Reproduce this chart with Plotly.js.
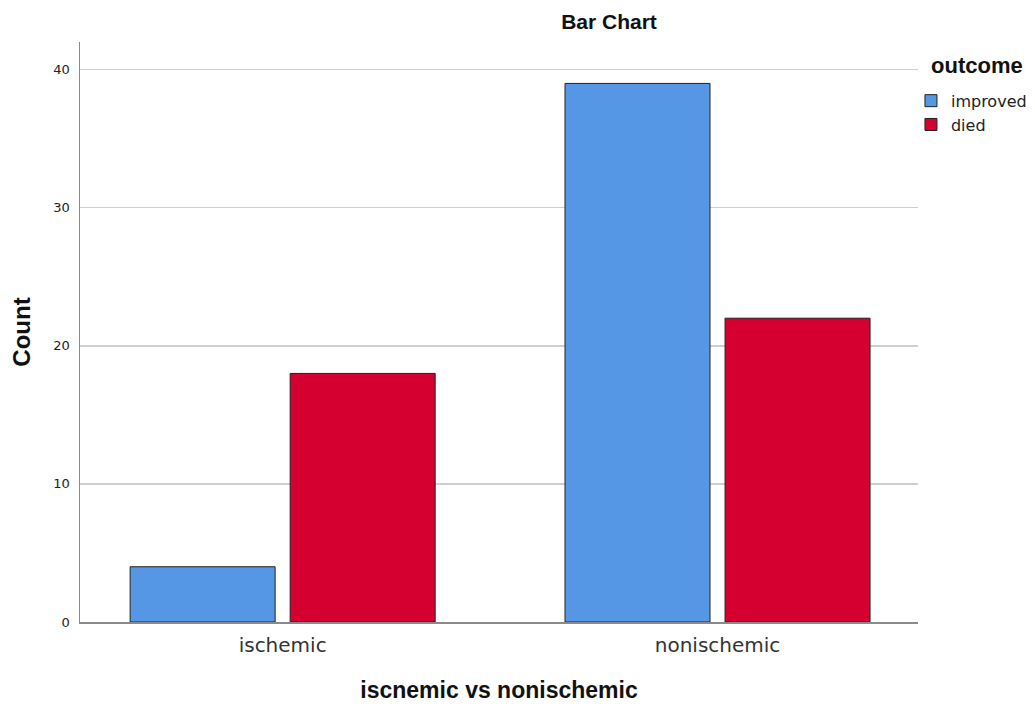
<!DOCTYPE html>
<html><head><meta charset="utf-8">
<script src="https://cdn.plot.ly/plotly-3.0.1.min.js"></script>
<style>html,body{margin:0;padding:0;background:#fff}</style>
</head><body>
<div id="chart" style="width:1035px;height:708px"></div>
<script>
const categories = ["ischemic", "nonischemic"];
const seriesNames = ["improved", "died"];
const improved = [4, 39];
const died = [18, 22];
const colors = ["#5596e5", "#d60030"];
const legendTitle = "outcome";

const traces = [improved, died].map((vals, i) => ({
  type: "bar",
  name: seriesNames[i],
  x: categories,
  y: vals,
  marker: {color: colors[i], line: {color: "#222", width: 1}},
  hoverinfo: "x+y+name"
}));

const layout = {
  width: 1035, height: 708,
  margin: {l: 80, r: 117, t: 42, b: 86, autoexpand: false},
  paper_bgcolor: "#fff", plot_bgcolor: "#fff",
  barmode: "group", bargap: 0.264, bargroupgap: 0.094,
  title: {text: "Bar Chart", font: {family: "Liberation Sans, Arial", size: 21, color: "#111", weight: "bold"},
          x: 609/1035, xref: "container", xanchor: "center", y: 1 - 22/708, yref: "container", yanchor: "middle"},
  xaxis: {
    range: [-0.466, 1.461], showgrid: false, zeroline: false,
    showline: true, linecolor: "#8a8a8a", linewidth: 1.5,
    ticks: "", tickfont: {family: "DejaVu Sans", size: 20, color: "#333"}, ticklabelstandoff: 4,
    title: {text: "iscnemic vs nonischemic", font: {family: "Liberation Sans, Arial", size: 23, color: "#111", weight: "bold"}, standoff: 26}
  },
  yaxis: {
    range: [0, 42], dtick: 10, tick0: 0, showgrid: true, gridcolor: "#cfcfcf", gridwidth: 1.5,
    zeroline: false, showline: true, linecolor: "#8a8a8a", linewidth: 1.5,
    ticks: "", tickfont: {family: "DejaVu Sans", size: 13, color: "#222"}, ticklabelstandoff: 6,
    title: {text: "Count", font: {family: "Liberation Sans, Arial", size: 24, color: "#111", weight: "bold"}, standoff: 16}
  },
  legend: {
    x: 0.9916, xanchor: "left", y: 0.928, yanchor: "top",
    font: {family: "DejaVu Sans", size: 16, color: "#222"},
    itemwidth: 30, tracegroupgap: 0, traceorder: "normal"
  },
  annotations: [{
    text: legendTitle, xref: "paper", yref: "paper",
    x: (929 - 80) / 838, y: (622 - 65) / 580, xanchor: "left", yanchor: "middle",
    showarrow: false, font: {family: "Liberation Sans, Arial", size: 22, color: "#111", weight: "bold"}
  }],
  showlegend: true
};

Plotly.newPlot("chart", traces, layout, {displayModeBar: false, staticPlot: true});
</script>
</body></html>
